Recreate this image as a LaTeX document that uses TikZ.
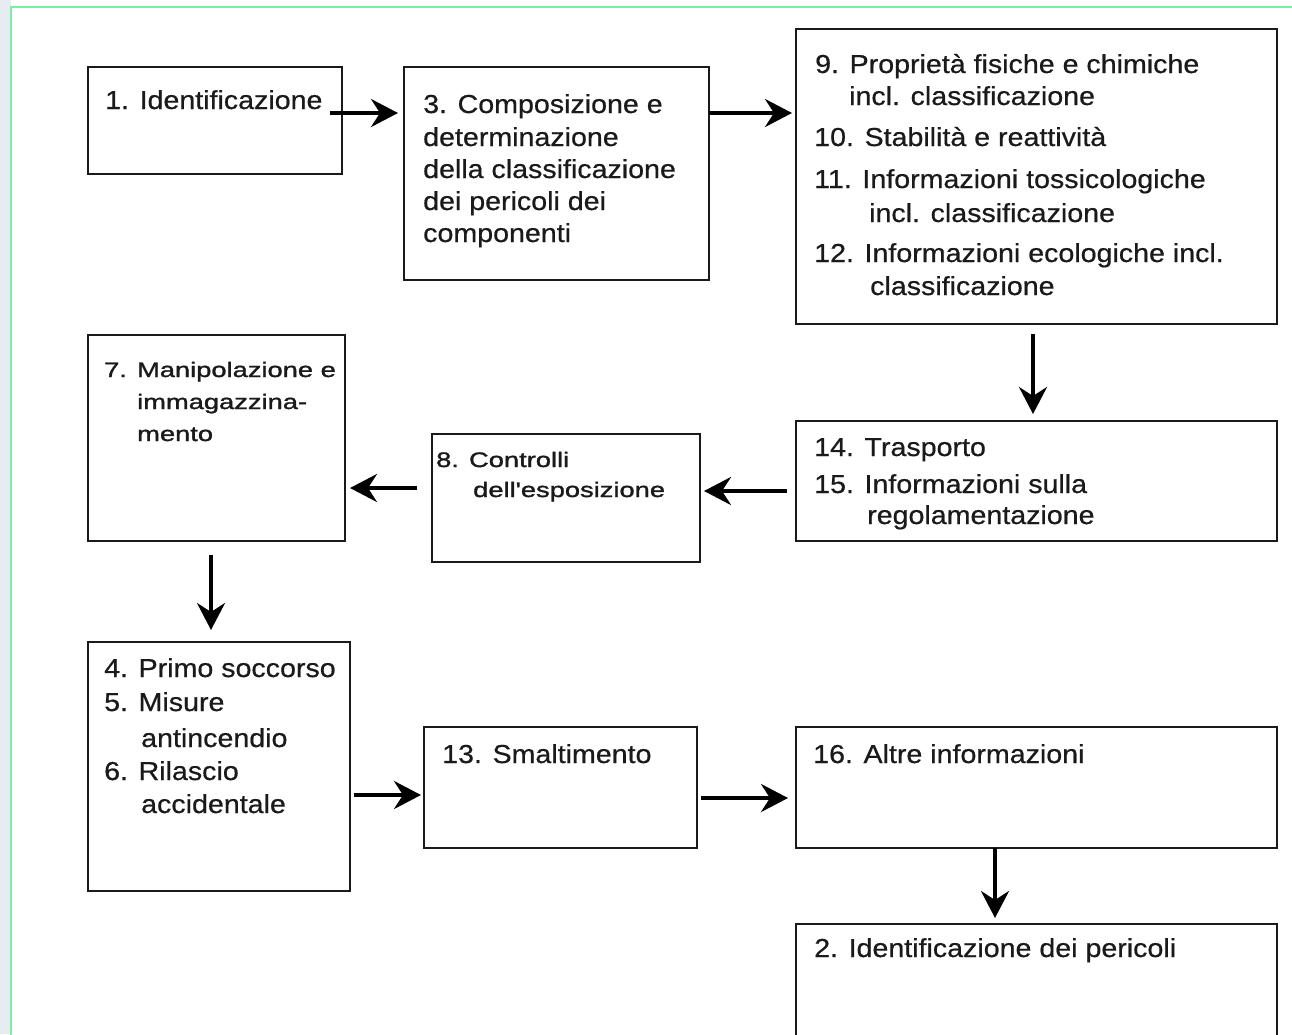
\documentclass[tikz,border=0pt]{standalone}
\usepackage{fontspec}
\setmainfont{Liberation Sans}[FakeStretch=1.1,FakeBold=0.6]
\newfontfamily\smallfont{Liberation Sans}[FakeStretch=1.3,FakeBold=1.4,Ligatures=TeXOff]
\usetikzlibrary{arrows.meta,calc}
\definecolor{strip}{HTML}{E6ECF1}
\definecolor{frameg}{HTML}{7CF0A0}
\definecolor{ink}{HTML}{1A1A1A}
\begin{document}
\begin{tikzpicture}[x=1pt,y=-1pt,
  box/.style={draw=ink, line width=2.2pt, rectangle, inner sep=0pt, outer sep=0pt, anchor=north west},
  txt/.style={anchor=base west, inner sep=0pt, font=\fontsize{26}{32}\selectfont, text=ink},
  stxt/.style={anchor=base west, inner sep=0pt, font=\smallfont\fontsize{21}{30}\selectfont, text=ink},
  arr/.style={draw=black, line width=3.8pt, -{Stealth[length=27pt,width=28pt,inset=9pt]}}]
\clip (0,0) rectangle (1292,1034);
\fill[white] (0,0) rectangle (1292,1034);
\fill[strip] (0,0) rectangle (11,1034);
\draw[frameg, line width=1.5pt] (11,1040) -- (11,7) -- (1300,7);

% boxes
\node[box, minimum width=254pt, minimum height=107pt] (b1) at (88,67) {};
\node[box, minimum width=305pt, minimum height=213pt] (b3) at (404,67) {};
\node[box, minimum width=481pt, minimum height=295pt] (b9) at (796,29) {};
\node[box, minimum width=257pt, minimum height=206pt] (b7) at (88,335) {};
\node[box, minimum width=268pt, minimum height=128pt] (b8) at (432,434) {};
\node[box, minimum width=481pt, minimum height=120pt] (b14) at (796,421) {};
\node[box, minimum width=262pt, minimum height=249pt] (b4) at (88,642) {};
\node[box, minimum width=273pt, minimum height=121pt] (b13) at (424,727) {};
\node[box, minimum width=481pt, minimum height=121pt] (b16) at (796,727) {};
\node[box, minimum width=481pt, minimum height=140pt] (b2) at (796,924) {};

% texts
\node[txt] (t1) at (105,109) {1. Identificazione};
\node[txt] (t3a) at (423,113) {3. Composizione e};
\node[txt] (t3b) at (423,146) {determinazione};
\node[txt] (t3c) at (423,178) {della classificazione};
\node[txt] (t3d) at (423,210) {dei pericoli dei};
\node[txt] (t3e) at (423,242) {componenti};
\node[txt] (t9a) at (815,73) {9. Proprietà fisiche e chimiche};
\node[txt] (t9b) at (849,105) {incl. classificazione};
\node[txt] (t9c) at (814,146) {10. Stabilità e reattività};
\node[txt] (t9d) at (814,188) {11. Informazioni tossicologiche};
\node[txt] (t9e) at (869,222) {incl. classificazione};
\node[txt] (t9f) at (814,262) {12. Informazioni ecologiche incl.};
\node[txt] (t9g) at (870,295) {classificazione};
\node[stxt] (t7a) at (104,377) {7. Manipolazione e};
\node[stxt] (t7b) at (137,409) {immagazzina-};
\node[stxt] (t7c) at (137,441) {mento};
\node[stxt] (t8a) at (436,467) {8. Controlli};
\node[stxt] (t8b) at (473,497) {dell'esposizione};
\node[txt] (t14a) at (814,456) {14. Trasporto};
\node[txt] (t14b) at (814,493) {15. Informazioni sulla};
\node[txt] (t14c) at (867,524) {regolamentazione};
\node[txt] (t4a) at (104,677) {4. Primo soccorso};
\node[txt] (t4b) at (104,711) {5. Misure};
\node[txt] (t4c) at (141,747) {antincendio};
\node[txt] (t4d) at (104,780) {6. Rilascio};
\node[txt] (t4e) at (141,813) {accidentale};
\node[txt] (t13) at (442,763) {13. Smaltimento};
\node[txt] (t16) at (813,763) {16. Altre informazioni};
\node[txt] (t2) at (814,957) {2. Identificazione dei pericoli};

% connectors
\draw[arr] ([shift={(-12,46)}]b1.north east) -- ([shift={(-6,46)}]b3.north west);
\draw[arr] ([shift={(0,46)}]b3.north east) -- ([shift={(-4,84)}]b9.north west);
\draw[arr] ([shift={(-3.5,10)}]b9.south) -- ([shift={(-3.5,-7)}]b14.north);
\draw[arr] ([shift={(-9,10)}]b14.west) -- ([shift={(4,-7)}]b8.east);
\draw[arr] ([shift={(-15,-10)}]b8.west) -- ([shift={(5,50)}]b7.east);
\draw[arr] ([shift={(-5.5,14)}]b7.south) -- ([shift={(-8,-12)}]b4.north);
\draw[arr] ([shift={(4,28.5)}]b4.east) -- ([shift={(-3,7.5)}]b13.west);
\draw[arr] ([shift={(4,10.5)}]b13.east) -- ([shift={(-8,10.5)}]b16.west);
\draw[arr] ([shift={(-41.5,0)}]b16.south) -- ([shift={(-41.5,-6)}]b2.north);
\end{tikzpicture}
\end{document}
